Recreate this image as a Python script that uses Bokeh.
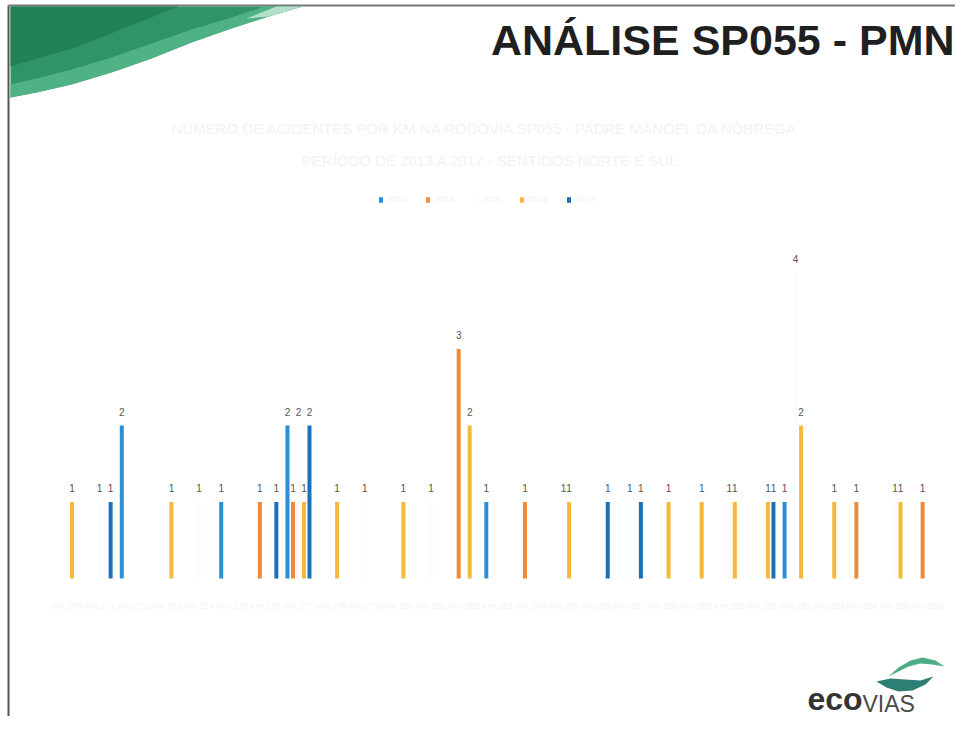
import numpy as np
from bokeh.plotting import figure
from bokeh.models import Range1d, ColumnDataSource, Legend, LegendItem
from bokeh.transform import dodge
from bokeh.core.properties import value
from bokeh.embed import file_html
from bokeh.resources import INLINE

# ---------------- data ----------------
categories = ["Km 270", "Km 271", "Km 272", "Km 273", "Km 274", "Km 275", "Km 276",
              "Km 277", "Km 278", "Km 279", "Km 280", "Km 281", "Km 282", "Km 283",
              "Km 284", "Km 285", "Km 286", "Km 287", "Km 288", "Km 289", "Km 290",
              "Km 291", "Km 292", "Km 293", "Km 294", "Km 295", "Km 296"]
series_names = ["2013", "2014", "2015", "2016", "2017"]
s2013 = [0, 0, 2, 0, 0, 1, 0, 2, 0, 0, 0, 0, 0, 1, 0, 0, 0, 0, 0, 0, 0, 0, 1, 0, 0, 0, 0]
s2014 = [0, 0, 0, 0, 0, 0, 1, 1, 0, 0, 0, 0, 3, 0, 1, 0, 0, 0, 0, 0, 0, 0, 0, 0, 1, 0, 1]
s2015 = [0, 1, 0, 0, 1, 0, 0, 2, 0, 1, 0, 1, 0, 0, 0, 1, 0, 1, 0, 0, 1, 0, 4, 0, 0, 1, 0]
s2016 = [1, 0, 0, 1, 0, 0, 0, 1, 1, 0, 1, 0, 2, 0, 0, 1, 0, 0, 1, 1, 1, 1, 2, 1, 0, 1, 0]
s2017 = [0, 1, 0, 0, 0, 0, 1, 2, 0, 0, 0, 0, 0, 0, 0, 0, 1, 1, 0, 0, 0, 1, 0, 0, 0, 0, 0]
series_values = [s2013, s2014, s2015, s2016, s2017]
series_colors = ["#2A8FD6", "#EF8A3B", "#FDFDFD", "#F6B93B", "#1D6FB8"]

slide_title = "ANÁLISE SP055 - PMN"
chart_title_1 = "NÚMERO DE ACIDENTES POR KM NA RODOVIA SP055 - PADRE MANOEL DA NÓBREGA"
chart_title_2 = "PERÍODO DE 2013 A 2017 - SENTIDOS NORTE E SUL"

# ---------------- figure ----------------
W, H = 955, 716
px_per_cat = 33.14
px_per_unit = 76.5
x0_canvas = 66.0
y0_canvas = 578.0

x_start = -x0_canvas / px_per_cat
x_end = x_start + W / px_per_cat
y_start = -(H - y0_canvas) / px_per_unit
y_end = y0_canvas / px_per_unit

p = figure(width=W, height=H, x_range=Range1d(x_start, x_end), y_range=Range1d(y_start, y_end),
           x_axis_type=None, y_axis_type=None, min_border=0, toolbar_location=None,
           output_backend="svg", outline_line_color=None,
           background_fill_color="white", border_fill_color="white")
p.extra_x_ranges = {"px": Range1d(0, W)}
p.extra_y_ranges = {"py": Range1d(H, 0)}

# slide border (left and top edges visible)
p.line([8, 8], [5, H], x_range_name="px", y_range_name="py", line_color="#555555", line_width=2)
p.line([8, W], [5, 5], x_range_name="px", y_range_name="py", line_color="#777777", line_width=2)

# ---------------- decorations: swoosh ----------------
sw_x = [10, 302, 268, 231, 191, 151, 111, 71, 36, 10]
sw_y = [6, 6, 16, 28, 42, 58, 72, 84, 92, 97]
p.patch(sw_x, sw_y, x_range_name="px", y_range_name="py", fill_color="#2F9468", line_color=None)
band_x = [302, 268, 231, 191, 151, 111, 71, 36, 10, 10, 36, 71, 111, 151, 191, 231, 264]
band_y = [6, 16, 28, 42, 58, 72, 84, 92, 97, 84, 78, 69, 57, 43, 29, 17, 6]
p.patch(band_x, band_y, x_range_name="px", y_range_name="py", fill_color="#55B68C",
        fill_alpha=0.85, line_color=None)
tip_x = [302, 268, 246, 276]
tip_y = [6, 16, 18, 6]
p.patch(tip_x, tip_y, x_range_name="px", y_range_name="py", fill_color="#BFE5D2",
        fill_alpha=0.9, line_color=None)
dark_x = [10, 178, 128, 78, 10]
dark_y = [6, 6, 26, 46, 66]
p.patch(dark_x, dark_y, x_range_name="px", y_range_name="py", fill_color="#1F7C53",
        fill_alpha=0.8, line_color=None)

# slide title
p.text(x=[954], y=[63], text=[slide_title], x_range_name="px", y_range_name="py",
       text_align="right", text_baseline="bottom", text_font=value("Liberation Sans"),
       text_font_style="bold", text_font_size="43px", text_color="#1f1f1f")

# washed-out chart title
p.text(x=[485, 490], y=[128, 160], text=[chart_title_1, chart_title_2],
       x_range_name="px", y_range_name="py", text_align="center", text_baseline="middle",
       text_font=value("Liberation Sans"), text_font_size="15px", text_color="#F2F2F2")

# ---------------- bars ----------------
slot = 5.5 / px_per_cat
bar_w = 4.0 / px_per_cat
src = ColumnDataSource(dict(x=list(range(len(categories))), cat=categories,
                            **{f"s{j}": vals for j, vals in enumerate(series_values)}))
renderers = []
for j, (name, vals, col) in enumerate(zip(series_names, series_values, series_colors)):
    off = (j - 2) * slot
    r = p.vbar(x=dodge("x", off, range=p.x_range), top=f"s{j}", bottom=0, width=bar_w,
               source=src, fill_color=col, line_color=None)
    renderers.append(r)
    idx = [i for i, v in enumerate(vals) if v > 0]
    lab = ColumnDataSource(dict(x=idx, v=[vals[i] for i in idx], t=[str(vals[i]) for i in idx]))
    p.text(x=dodge("x", off, range=p.x_range), y="v", text="t", source=lab,
           text_align="center", text_baseline="bottom", y_offset=-10,
           text_font=value("Liberation Sans"), text_font_size="10px", text_color="#555555")

# washed-out category labels
p.text(x="x", y=0, text="cat", source=src, text_align="center", text_baseline="top",
       y_offset=22, text_font=value("Liberation Sans"), text_font_size="9px",
       text_color="#F4F4F4")

legend = Legend(items=[LegendItem(label=n, renderers=[r]) for n, r in zip(series_names, renderers)],
                location=(378, 512), orientation="horizontal", padding=0, margin=0,
                spacing=18, label_standoff=4, glyph_width=5, glyph_height=7,
                label_height=7, label_width=20, label_text_font_size="9px",
                label_text_font="Liberation Sans", label_text_color="#F2F2F2",
                border_line_alpha=0, background_fill_alpha=0)
p.add_layout(legend)

# ---------------- ecovias logo ----------------
lo_x = [876, 890, 905, 920, 933, 925, 912, 898, 886]
lo_y = [681, 678, 679, 680, 676, 684, 690, 691, 687]
p.patch(lo_x, lo_y, x_range_name="px", y_range_name="py", fill_color="#2C7F72", line_color=None)
up_x = [888, 898, 910, 922, 935, 944, 932, 920, 908, 896]
up_y = [676, 667, 660, 657, 660, 666, 664, 663, 666, 672]
p.patch(up_x, up_y, x_range_name="px", y_range_name="py", fill_color="#4DAE86", line_color=None)
p.text(x=[807], y=[716], text=["eco"], x_range_name="px", y_range_name="py",
       text_align="left", text_baseline="bottom", text_font=value("Liberation Sans"),
       text_font_style="bold", text_font_size="32px", text_color="#333333")
p.text(x=[862], y=[716], text=["VIAS"], x_range_name="px", y_range_name="py",
       text_align="left", text_baseline="bottom", text_font=value("Liberation Sans"),
       text_font_size="23px", text_color="#4a4a4a")

open("out.html", "w").write(file_html(p, INLINE))
